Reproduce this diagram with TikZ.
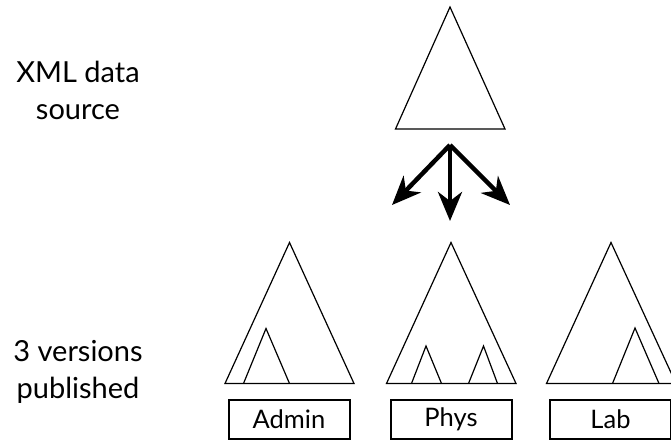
\documentclass[tikz,border=0pt]{standalone}
\usepackage{fontspec}
\setmainfont{Lato}
\usetikzlibrary{arrows.meta}
\begin{document}
\begin{tikzpicture}[x=1pt,y=-1pt,
  tree/.style={draw=black,line width=1.2pt,line join=miter},
  version/.style={draw=black,line width=2pt,minimum width=121pt,minimum height=39pt,
    inner sep=0pt,font=\fontsize{25.5}{30}\selectfont},
  sidelabel/.style={align=center,font=\fontsize{29}{37}\selectfont,inner sep=0pt},
  fanarrow/.style={line width=4.5pt,-{Stealth[length=29pt,width=24pt,inset=9pt]}}]
\useasboundingbox (0,0) rectangle (671,447);
\clip (0,0) rectangle (671,447);

% source tree
\draw[tree] (450,7) -- (505,129) -- (395.5,129) -- cycle;

% fan-out arrows
\coordinate (fork) at (450,145);
\coordinate (tipL) at (392,205);
\coordinate (tipM) at (450,221);
\coordinate (tipR) at (510,205);
\draw[fanarrow] (fork) -- (tipL);
\draw[fanarrow] (fork) -- (tipM);
\draw[fanarrow] (fork) -- (tipR);

% published versions
\draw[tree] (289.5,242.5) -- (354,383.5) -- (225,383.5) -- cycle;
\draw[tree] (243.5,383.5) -- (266,328.5) -- (289.5,383.5);

\draw[tree] (451,242.5) -- (516,383.5) -- (386.5,383.5) -- cycle;
\draw[tree] (411.5,383.5) -- (426,346) -- (441.5,383.5);
\draw[tree] (468.5,383.5) -- (483.5,346) -- (497.5,383.5);

\draw[tree] (611,242.5) -- (676,383.5) -- (546.5,383.5) -- cycle;
\draw[tree] (612.5,383.5) -- (635,328) -- (659,383.5);

\node[version] (admin) at (289,419) {Admin};
\node[version] (phys) at (451,419) {Phys};
\node[version] (lab) at (610.5,419) {Lab};

% row labels
\node[sidelabel] (src) at (78,90) {XML data\\source};
\node[sidelabel] (pub) at (78,372) {3 versions\\published};
\end{tikzpicture}
\end{document}
